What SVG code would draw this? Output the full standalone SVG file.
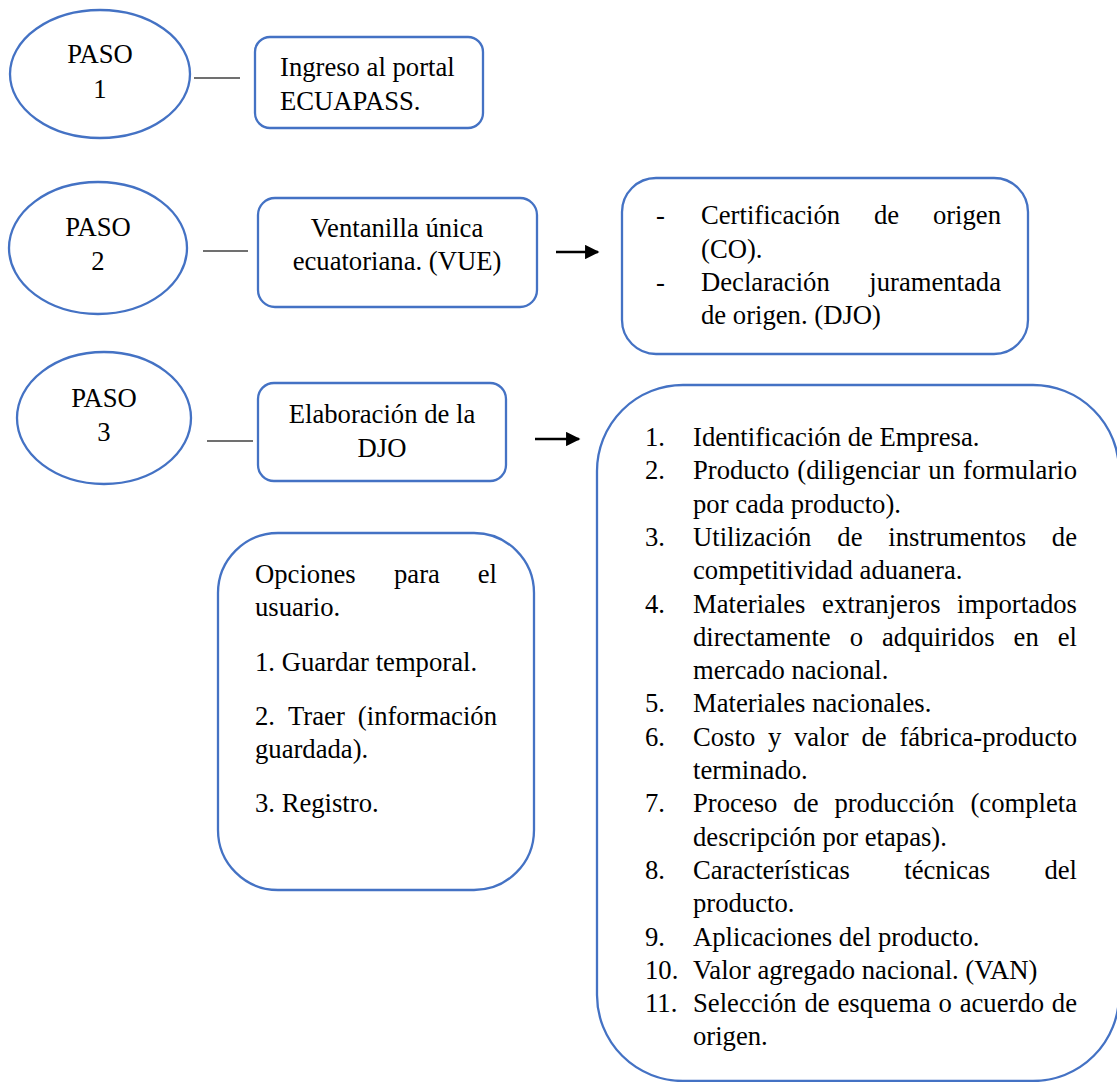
<svg xmlns="http://www.w3.org/2000/svg" width="1117" height="1082" viewBox="0 0 1117 1082">
  <style>
    .shape { fill: #ffffff; stroke: #4472c4; stroke-width: 2.3; }
    .t { font-family: "Liberation Serif", "Times New Roman", serif; font-size: 26.67px; fill: #000000; }
    .mid { text-anchor: middle; }
    .end { text-anchor: end; }
    .tie { stroke: #404040; stroke-width: 1.5; fill: none; }
    .flow { stroke: #000000; stroke-width: 2.4; fill: none; }
  </style>
  <defs>
    <marker id="head" viewBox="0 0 10 10" refX="9" refY="5" markerWidth="7" markerHeight="6" orient="auto" markerUnits="strokeWidth">
      <path d="M0,0 L10,5 L0,10 Z" fill="#000000"/>
    </marker>
  </defs>
  <rect width="1117" height="1082" fill="#ffffff"/>

  <!-- Step 1 -->
  <g id="paso1">
    <ellipse class="shape" cx="100" cy="74" rx="90" ry="64"/>
    <text class="t mid" x="100" y="63">PASO</text>
    <text class="t mid" x="100" y="98">1</text>
  </g>
  <g id="ingreso">
    <rect class="shape" x="255" y="37" width="228" height="91" rx="15"/>
    <text class="t" x="280" y="76">Ingreso al portal</text>
    <text class="t" x="280" y="110">ECUAPASS.</text>
  </g>

  <!-- Step 2 -->
  <g id="paso2">
    <ellipse class="shape" cx="98" cy="248" rx="89" ry="66"/>
    <text class="t mid" x="98" y="236">PASO</text>
    <text class="t mid" x="98" y="270">2</text>
  </g>
  <g id="vue">
    <rect class="shape" x="258" y="198" width="279" height="109" rx="17"/>
    <text class="t mid" x="397" y="237">Ventanilla única</text>
    <text class="t mid" x="397" y="270">ecuatoriana. (VUE)</text>
  </g>
  <g id="certificados">
    <rect class="shape" x="622" y="178" width="406" height="176" rx="34"/>
    <text class="t" x="656" y="224">-</text>
    <text class="t" y="224"><tspan x="701">Certificación</tspan><tspan x="874">de</tspan><tspan x="1001" text-anchor="end">origen</tspan></text>
    <text class="t" x="701" y="257.5">(CO).</text>
    <text class="t" x="656" y="291">-</text>
    <text class="t" y="291"><tspan x="701">Declaración</tspan><tspan x="1001" text-anchor="end">juramentada</tspan></text>
    <text class="t" x="701" y="324">de origen. (DJO)</text>
  </g>

  <!-- Step 3 -->
  <g id="paso3">
    <ellipse class="shape" cx="104" cy="418" rx="87" ry="66"/>
    <text class="t mid" x="104" y="407">PASO</text>
    <text class="t mid" x="104" y="441">3</text>
  </g>
  <g id="elaboracion">
    <rect class="shape" x="258" y="383" width="248" height="98" rx="16"/>
    <text class="t mid" x="382" y="423">Elaboración de la</text>
    <text class="t mid" x="382" y="457">DJO</text>
  </g>
  <g id="opciones">
    <rect class="shape" x="218" y="533" width="316" height="357" rx="60"/>
    <text class="t" y="583"><tspan x="255">Opciones</tspan><tspan x="394">para</tspan><tspan x="497" text-anchor="end">el</tspan></text>
    <text class="t" x="255" y="616">usuario.</text>
    <text class="t" x="255" y="671">1. Guardar temporal.</text>
    <text class="t" y="725"><tspan x="255">2.</tspan><tspan x="288">Traer</tspan><tspan x="497" text-anchor="end">(información</tspan></text>
    <text class="t" x="255" y="758">guardada).</text>
    <text class="t" x="255" y="812">3. Registro.</text>
  </g>
  <g id="formulario">
    <rect class="shape" x="597" y="385" width="522" height="696" rx="86"/>
    <g class="t">
      <text x="645" y="446">1.</text>
      <text x="693" y="446">Identificación de Empresa.</text>
      <text x="645" y="479.3">2.</text>
      <text y="479.3"><tspan x="693">Producto</tspan><tspan x="797.3">(diligenciar</tspan><tspan x="928.3">un</tspan><tspan x="1077" text-anchor="end">formulario</tspan></text>
      <text x="693" y="512.6">por cada producto).</text>
      <text x="645" y="545.9">3.</text>
      <text y="545.9"><tspan x="693">Utilización</tspan><tspan x="837.3">de</tspan><tspan x="888.3">instrumentos</tspan><tspan x="1077" text-anchor="end">de</tspan></text>
      <text x="693" y="579.2">competitividad aduanera.</text>
      <text x="645" y="612.5">4.</text>
      <text y="612.5"><tspan x="693">Materiales</tspan><tspan x="822.1">extranjeros</tspan><tspan x="1077" text-anchor="end">importados</tspan></text>
      <text y="645.8"><tspan x="693">directamente</tspan><tspan x="849.7">o</tspan><tspan x="882">adquiridos</tspan><tspan x="1013.6">en</tspan><tspan x="1077" text-anchor="end">el</tspan></text>
      <text x="693" y="679.1">mercado nacional.</text>
      <text x="645" y="712.4">5.</text>
      <text x="693" y="712.4">Materiales nacionales.</text>
      <text x="645" y="745.7">6.</text>
      <text y="745.7"><tspan x="693">Costo</tspan><tspan x="767.9">y</tspan><tspan x="793.9">valor</tspan><tspan x="861.4">de</tspan><tspan x="1077" text-anchor="end">fábrica-producto</tspan></text>
      <text x="693" y="779">terminado.</text>
      <text x="645" y="812.3">7.</text>
      <text y="812.3"><tspan x="693">Proceso</tspan><tspan x="793.3">de</tspan><tspan x="834.4">producción</tspan><tspan x="1077" text-anchor="end">(completa</tspan></text>
      <text x="693" y="845.6">descripción por etapas).</text>
      <text x="645" y="878.9">8.</text>
      <text y="878.9"><tspan x="693">Características</tspan><tspan x="904.3">técnicas</tspan><tspan x="1077" text-anchor="end">del</tspan></text>
      <text x="693" y="912.2">producto.</text>
      <text x="645" y="945.5">9.</text>
      <text x="693" y="945.5">Aplicaciones del producto.</text>
      <text x="645" y="978.8">10.</text>
      <text x="693" y="978.8">Valor agregado nacional. (VAN)</text>
      <text x="645" y="1012.1">11.</text>
      <text y="1012.1"><tspan x="693">Selección</tspan><tspan x="804.5">de</tspan><tspan x="837.5">esquema</tspan><tspan x="938.6">o</tspan><tspan x="959.7">acuerdo</tspan><tspan x="1077" text-anchor="end">de</tspan></text>
      <text x="693" y="1045.4">origen.</text>
    </g>
  </g>

  <!-- Connectors -->
  <g id="connectors">
    <line class="tie" x1="194" y1="78" x2="240" y2="78"/>
    <line class="tie" x1="203" y1="251" x2="248" y2="251"/>
    <line class="tie" x1="207" y1="441" x2="253" y2="441"/>
    <line class="flow" x1="556" y1="252" x2="598" y2="252" marker-end="url(#head)"/>
    <line class="flow" x1="535" y1="439" x2="579" y2="439" marker-end="url(#head)"/>
  </g>
</svg>
